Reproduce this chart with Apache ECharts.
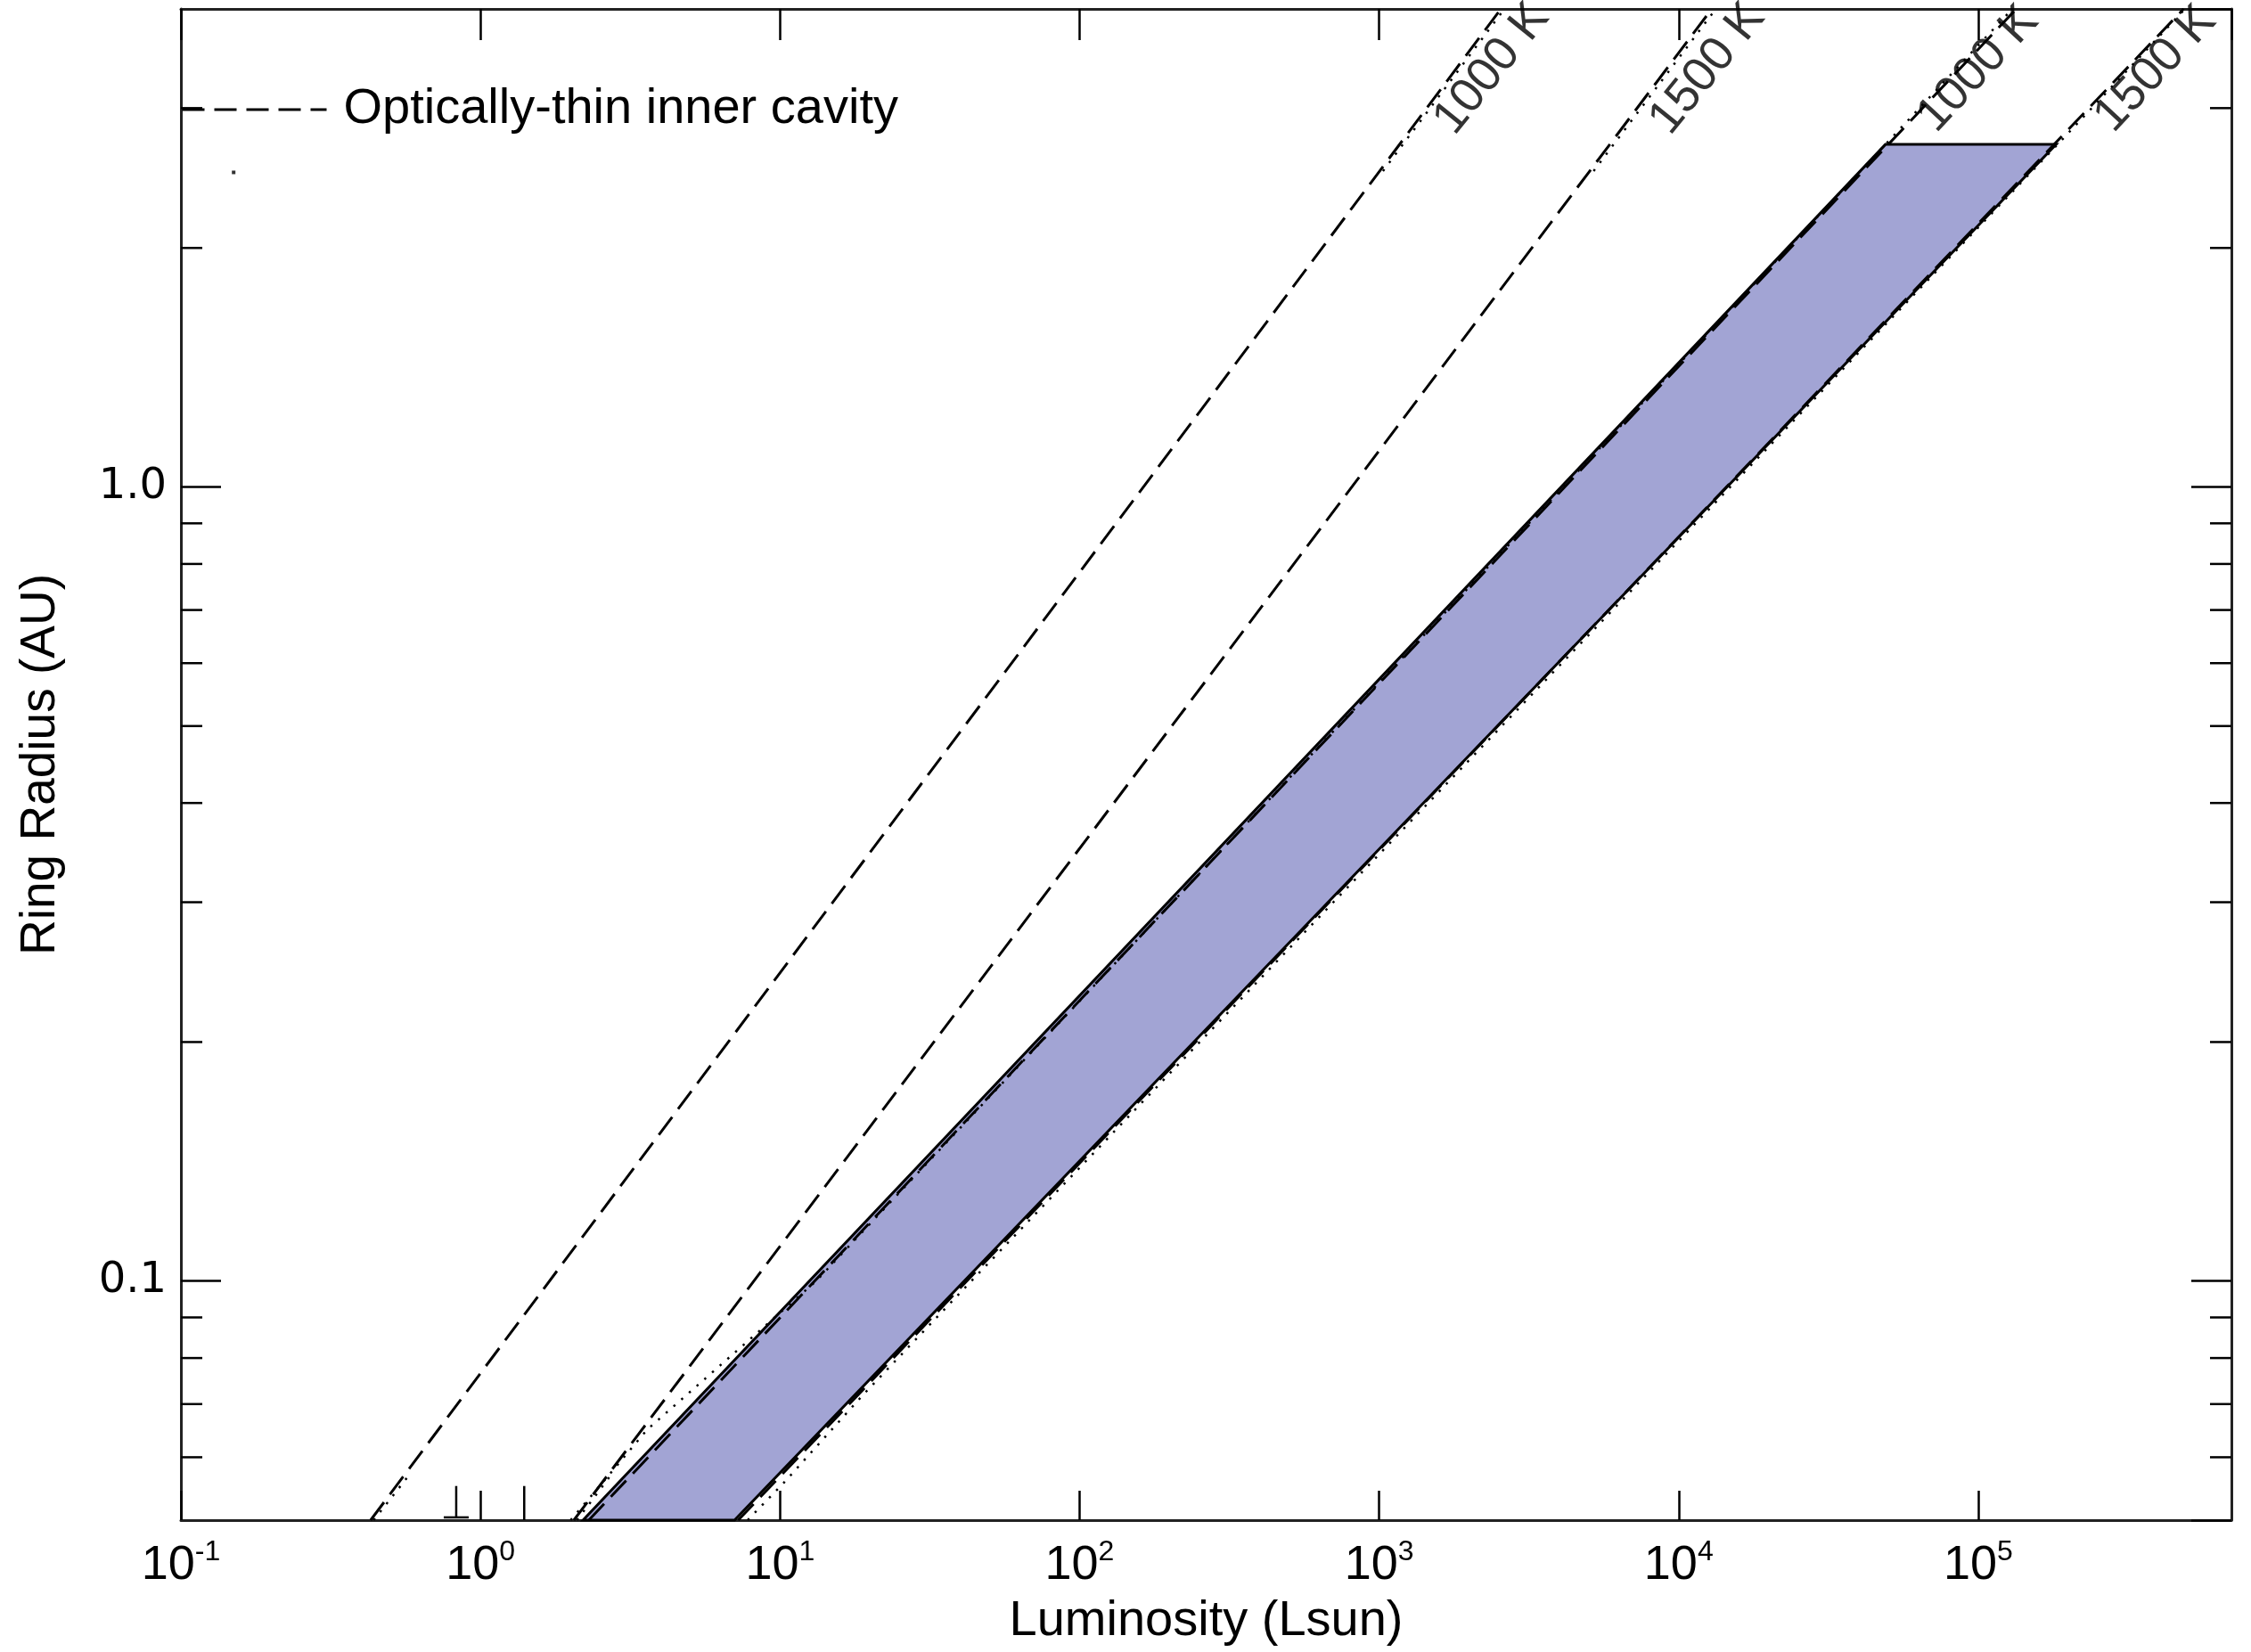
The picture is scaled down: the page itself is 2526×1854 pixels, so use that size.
<!DOCTYPE html>
<html>
<head>
<meta charset="utf-8">
<script src="https://cdn.jsdelivr.net/npm/echarts@6/dist/echarts.min.js"></script>
<style>
  html, body { margin: 0; padding: 0; background: #ffffff; }
  #chart { width: 2526px; height: 1854px; }
</style>
</head>
<body>
<div id="chart"></div>
<script>
// Sublimation-radius relations: [luminosity (Lsun), ring radius (AU)]
const thinCavity1000K = [[0.43, 0.05], [2550, 4.0]];
const thinCavity1500K = [[2.05, 0.05], [12900, 4.0]];
const thickDisk1000K = [[2.3, 0.05], [1.34e5, 4.0]];
const thickDisk1500K = [[7.25, 0.05], [4.85e5, 4.0]];

// Dotted companion curves (visible pieces near the bottom and the top)
const thinCavity1000KDotLow = [[0.44, 0.05], [0.57, 0.0566]];
const thinCavity1000KDotHigh = [[1030, 2.5], [2620, 4.0]];
const thinCavity1500KDotLow = [[2.1, 0.05], [2.7, 0.0567]];
const thinCavity1500KDotHigh = [[5200, 2.5], [13300, 4.0]];
const thickDisk1000KDot = [[2.0, 0.05], [2.5, 0.0552], [3.6, 0.065], [13.2, 0.1], [4.9e4, 2.7], [1.3e5, 4.0]];
const thickDisk1500KDot = [[7.8, 0.05], [10.2, 0.0555], [19, 0.072], [43.5, 0.1], [1.84e5, 2.7], [4.9e5, 4.0]];

// Shaded band: inner and outer boundaries (bottom point, top point)
const bandInner = [[2.2, 0.05], [4.9e4, 2.7]];
const bandOuter = [[7.05, 0.05], [1.82e5, 2.7]];

// Temperature labels: [text, luminosity, radius]
const tempLabels = [
  ['1000 K', 2380, 3.36],
  ['1500 K', 12500, 3.36],
  ['1000 K', 1.0e5, 3.36],
  ['1500 K', 3.91e5, 3.36]
];

// Limit bars near the bottom: [luminosity, low radius, high radius]
const limitBars = [[0.83, 0.0504, 0.0552], [1.40, 0.05, 0.0552]];
const loosePoint = [[0.15, 2.49]];

// Minor ticks on the radius axis
const radiusMinorTicks = [0.06, 0.07, 0.08, 0.09, 0.2, 0.3, 0.4, 0.5, 0.6, 0.7, 0.8, 0.9, 2, 3];

const L_MIN = 0.1, L_MAX = 7e5, R_MIN = 0.05, R_MAX = 4;
const FONT = "'Liberation Sans', Arial, Helvetica, sans-serif";
const CAVITY = 'Optically-thin inner cavity';

const dashStyle = { color: '#000', width: 3, type: [25, 11] };
const dotStyle = { color: '#000', width: 2.5, type: [2.5, 9] };

function lineSeries(name, data, style, z) {
  return {
    type: 'line', name: name, data: data, showSymbol: false, symbol: 'none',
    color: '#000', itemStyle: { color: '#000' },
    lineStyle: style, z: z, silent: true, animation: false
  };
}

const chart = echarts.init(document.getElementById('chart'), null, { renderer: 'canvas' });

const axisLine = { show: true, lineStyle: { color: '#222', width: 3 } };

chart.setOption({
  animation: false,
  backgroundColor: '#ffffff',
  grid: { left: 203, right: 22, top: 10, bottom: 148, containLabel: false },
  legend: {
    data: [CAVITY],
    left: 203, top: 95, padding: 0,
    itemWidth: 162, itemHeight: 56,
    selectedMode: false,
    itemStyle: { opacity: 0 },
    lineStyle: { width: 3, color: '#000' },
    textStyle: { fontFamily: FONT, fontSize: 56, color: '#000', padding: [0, 0, 0, 14] }
  },
  xAxis: [
    {
      type: 'log', logBase: 10, min: L_MIN, max: L_MAX, position: 'bottom',
      name: 'Luminosity (Lsun)', nameLocation: 'middle', nameGap: 86,
      nameTextStyle: { fontFamily: FONT, fontSize: 56, color: '#000' },
      axisLine: axisLine,
      axisTick: { show: true, inside: true, length: 33, lineStyle: { color: '#000', width: 2.5 } },
      minorTick: { show: false },
      splitLine: { show: false },
      axisLabel: {
        show: true, margin: 20, showMaxLabel: false, color: '#000',
        formatter: function (v) {
          const e = Math.round(Math.log10(v));
          return '{b|10}{e|' + e + '}';
        },
        rich: {
          b: { fontFamily: FONT, fontSize: 54, lineHeight: 62, color: '#000' },
          e: { fontFamily: FONT, fontSize: 32, lineHeight: 34, verticalAlign: 'top', color: '#000' }
        }
      }
    },
    {
      type: 'log', logBase: 10, min: L_MIN, max: L_MAX, position: 'top',
      axisLine: axisLine,
      axisTick: { show: true, inside: true, length: 35, lineStyle: { color: '#000', width: 2.5 } },
      splitLine: { show: false },
      axisLabel: { show: false }
    }
  ],
  yAxis: [
    {
      type: 'log', logBase: 10, min: R_MIN, max: R_MAX, position: 'left',
      name: 'Ring Radius (AU)', nameLocation: 'middle', nameGap: 130, nameRotate: 90,
      nameTextStyle: { fontFamily: FONT, fontSize: 55, color: '#000' },
      axisLine: axisLine,
      axisTick: { show: true, inside: true, length: 45, lineStyle: { color: '#000', width: 2.5 } },
      splitLine: { show: false },
      axisLabel: {
        show: true, margin: 16, showMinLabel: false, showMaxLabel: false,
        fontFamily: "'DejaVu Sans', sans-serif", fontSize: 48, color: '#000',
        formatter: function (v) { return Number(v).toFixed(1); }
      }
    },
    {
      type: 'log', logBase: 10, min: R_MIN, max: R_MAX, position: 'right',
      axisLine: axisLine,
      axisTick: { show: true, inside: true, length: 45, lineStyle: { color: '#000', width: 2.5 } },
      splitLine: { show: false },
      axisLabel: { show: false }
    }
  ],
  series: [
    {
      type: 'custom', name: 'band', coordinateSystem: 'cartesian2d', silent: true, z: 1,
      data: [bandInner[0]],
      renderItem: function (params, api) {
        const pts = [bandInner[0], bandInner[1], bandOuter[1], bandOuter[0]].map(function (p) { return api.coord(p); });
        return {
          type: 'polygon', shape: { points: pts },
          style: { fill: '#A2A4D4', stroke: '#000', lineWidth: 3, lineJoin: 'miter' }
        };
      }
    },
    lineSeries(CAVITY, thinCavity1000K, dashStyle, 3),
    lineSeries(CAVITY, thinCavity1500K, dashStyle, 3),
    lineSeries(CAVITY, thickDisk1000K, dashStyle, 3),
    lineSeries(CAVITY, thickDisk1500K, dashStyle, 3),
    lineSeries('dotted-a1', thinCavity1000KDotLow, dotStyle, 3),
    lineSeries('dotted-a2', thinCavity1000KDotHigh, dotStyle, 3),
    lineSeries('dotted-b1', thinCavity1500KDotLow, dotStyle, 3),
    lineSeries('dotted-b2', thinCavity1500KDotHigh, dotStyle, 3),
    lineSeries('dotted-c', thickDisk1000KDot, dotStyle, 3),
    lineSeries('dotted-d', thickDisk1500KDot, dotStyle, 3),
    {
      type: 'custom', name: 'limits', coordinateSystem: 'cartesian2d', silent: true, z: 4,
      data: limitBars,
      renderItem: function (params, api) {
        const lo = api.coord([api.value(0), api.value(1)]);
        const hi = api.coord([api.value(0), api.value(2)]);
        const children = [{
          type: 'line', shape: { x1: lo[0], y1: lo[1], x2: hi[0], y2: hi[1] },
          style: { stroke: '#000', lineWidth: 2.5 }
        }];
        if (api.value(1) > R_MIN) {
          children.push({
            type: 'line', shape: { x1: lo[0] - 14, y1: lo[1], x2: lo[0] + 14, y2: lo[1] },
            style: { stroke: '#000', lineWidth: 2.5 }
          });
        }
        return { type: 'group', children: children };
      }
    },
    {
      type: 'scatter', name: 'point', data: loosePoint, symbol: 'rect', symbolSize: 4,
      itemStyle: { color: '#000' }, silent: true, z: 4
    },
    {
      type: 'custom', name: 'minor-ticks', coordinateSystem: 'cartesian2d', silent: true, z: 4,
      data: radiusMinorTicks.map(function (v) { return [L_MIN, v]; }),
      renderItem: function (params, api) {
        const y = api.coord([L_MIN, api.value(1)])[1];
        const cs = params.coordSys;
        return {
          type: 'group', children: [
            { type: 'line', shape: { x1: cs.x, y1: y, x2: cs.x + 24, y2: y }, style: { stroke: '#000', lineWidth: 2.5 } },
            { type: 'line', shape: { x1: cs.x + cs.width - 24, y1: y, x2: cs.x + cs.width, y2: y }, style: { stroke: '#000', lineWidth: 2.5 } }
          ]
        };
      }
    },
    {
      type: 'scatter', name: 'temperature-labels', silent: true, z: 5,
      symbolSize: 0, itemStyle: { color: '#000' },
      data: tempLabels.map(function (t, i) {
        return {
          name: t[0], value: [t[1], t[2]],
          label: { rotate: i < 2 ? 51 : 47 }
        };
      }),
      label: {
        show: true, position: 'inside', formatter: '{b}',
        fontFamily: FONT, fontSize: 54, color: '#000',
        textBorderWidth: 0, textBorderColor: 'transparent',
        align: 'center', verticalAlign: 'middle'
      }
    }
  ]
});
</script>
</body>
</html>
